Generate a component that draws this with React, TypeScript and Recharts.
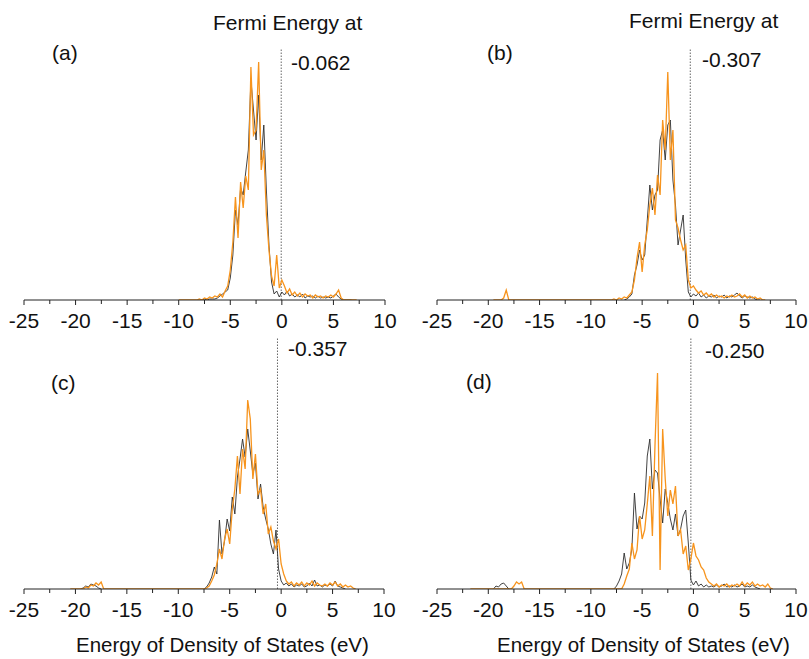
import React from "react";
import { LineChart, Line, XAxis, YAxis, ReferenceLine } from "recharts";

// energy grid (eV): a sparse low-energy part, then the dense band region
const farEnergy = [-21.75, -20.5, -19.5, -19.25, -19, -18.75, -18.5, -18.25, -18, -17.75, -17.5, -17.25, -17, -16.75, -16.5, -16];
const mainEnergy = [
  -10, -9.75, -9.5, -9.25, -9, -8.75, -8.5, -8.25,
  -8, -7.75, -7.5, -7.25, -7, -6.75, -6.5, -6.25,
  -6, -5.75, -5.5, -5.25, -5, -4.75, -4.5, -4.25,
  -4, -3.75, -3.5, -3.25, -3, -2.75, -2.5, -2.25,
  -2, -1.75, -1.5, -1.25, -1, -0.75, -0.5, -0.25,
  0, 0.25, 0.5, 0.75, 1, 1.25, 1.5, 1.75,
  2, 2.25, 2.5, 2.75, 3, 3.25, 3.5, 3.75,
  4, 4.25, 4.5, 4.75, 5, 5.25, 5.5, 5.75,
  6, 6.25, 6.5, 6.75, 7, 7.25, 7.5, 7.75,
];
const energy = [...farEnergy, ...mainEnergy];

const N = null;

// (a) Fermi -0.062
const aBlack = [
  N, N, N, N, N, N, N, N, N, N, N, N, N, N, N, N,
  N, N, N, N, N, N, N, N,
  0, 0, 1, 0, 1, 1, 1, 2,
  4, 6, 8, 10, 22, 45, 90, 75,
  112, 105, 128, 150, 220, 190, 160, 205,
  140, 175, 110, 55, 18, 6, 9, 3,
  8, 5, 9, 4, 6, 3, 5, 3,
  6, 2, 4, 3, 4, 2, 4, 2,
  3, 2, 3, 2, 4, 6, 3, 1,
  0, 0, 0, 0, N, N, N, N,
];
const aOrange = [
  N, N, N, N, N, N, N, N, N, N, N, N, N, N, N, N,
  0, 0, 0, 0, 0, 0, 0, 0,
  1, 0, 2, 1, 3, 2, 4, 3,
  6, 3, 9, 14, 30, 58, 103, 62,
  118, 92, 124, 110, 233, 165, 170, 238,
  130, 150, 85, 50, 24, 14, 45, 12,
  20, 14, 7, 11, 5, 8, 4, 7,
  3, 6, 4, 5, 2, 5, 3, 4,
  2, 4, 3, 5, 3, 6, 10, 2,
  0, 0, 0, 0, 0, 0, N, N,
];

// (b) Fermi -0.307
const bBlack = [
  N, N, N, N, N, N, N, N, N, N, N, N, N, N, N, N,
  N, N, N, N, N, N, N, N,
  N, N, N, N, N, 0, 1, 3,
  6, 25, 35, 50, 40, 45, 80, 115,
  90, 105, 110, 160, 170, 140, 175, 180,
  120, 95, 55, 70, 85, 40, 8, 3,
  6, 4, 7, 3, 5, 2, 4, 3,
  5, 2, 4, 3, 5, 2, 4, 3,
  5, 7, 4, 2, 4, 3, 2, 3,
  1, 0, 0, N, N, N, N, N,
];
const bOrange = [
  N, N, 0, 0, 0, 0, 2, 10, 0, 0, 0, 0, 0, 0, 0, 0,
  0, 0, 0, 0, 0, 0, 0, 0,
  0, 1, 0, 2, 1, 3, 2, 5,
  8, 20, 42, 58, 28, 55, 70, 95,
  112, 85, 125, 105, 180, 150, 228, 140,
  170, 80, 72, 60, 50, 55, 20, 12,
  14, 10, 7, 9, 5, 7, 4, 6,
  3, 5, 3, 4, 2, 4, 3, 5,
  3, 4, 6, 3, 5, 2, 4, 2,
  3, 1, 2, 0, 0, N, N, N,
];

// (c) Fermi -0.357
const cBlack = [
  N, N, 0, 1, 3, 2, 5, 4, 3, 1, 0, N, N, N, N, N,
  N, N, N, N, N, N, N, N,
  N, N, 0, 2, 6, 12, 22, 15,
  69, 35, 48, 70, 58, 92, 75, 112,
  130, 150, 132, 160, 138, 115, 126, 90,
  105, 82, 70, 60, 45, 35, 59, 20,
  8, 4, 6, 3, 5, 2, 4, 3,
  5, 2, 3, 6, 3, 9, 3, 4,
  2, 4, 3, 5, 3, 8, 3, 2,
  1, 0, N, N, N, N, N, N,
];
const cOrange = [
  N, 0, 0, 0, 2, 1, 4, 3, 6, 4, 7, 0, 0, 0, 0, 0,
  0, 0, 0, 0, 0, 0, 0, 0,
  0, 0, 0, 1, 3, 8, 14, 25,
  40, 30, 50, 60, 45, 80, 100, 133,
  95, 140, 120, 189, 170, 110, 135, 95,
  100, 75, 85, 55, 62, 48, 40, 50,
  25, 15, 8, 5, 7, 3, 6, 4,
  7, 3, 6, 4, 8, 3, 6, 4,
  3, 5, 3, 6, 4, 7, 3, 5,
  2, 4, 2, 3, 1, 0, N, N,
];

// (d) Fermi -0.250
const dBlack = [
  N, N, 0, 3, 2, 5, 6, 3, 0, N, N, N, N, N, N, N,
  N, N, N, N, N, N, N, N,
  N, 0, 3, 8, 15, 36, 20, 26,
  40, 96, 60, 73, 70, 86, 133, 150,
  100, 119, 116, 90, 66, 100, 86, 70,
  59, 75, 53, 60, 73, 79, 46, 9,
  4, 8, 3, 5, 2, 4, 2, 3,
  2, 4, 2, 3, 5, 2, 3, 2,
  4, 2, 3, 5, 2, 3, 2, 4,
  2, 1, 0, N, N, N, N, N,
];
const dOrange = [
  0, 0, 0, 0, 0, 0, 0, 0, 0, 0, 3, 7, 5, 7, 0, 0,
  0, 0, 0, 0, 0, 0, 0, 0,
  0, 0, 0, 0, 0, 5, 13, 20,
  46, 30, 39, 73, 50, 59, 85, 113,
  53, 143, 216, 19, 160, 110, 73, 99,
  85, 103, 53, 59, 35, 43, 19, 30,
  46, 33, 29, 22, 19, 11, 7, 5,
  3, 5, 2, 4, 3, 5, 2, 4,
  3, 5, 3, 7, 3, 6, 4, 7,
  3, 5, 3, 4, 2, 5, 1, 0,
];

const xTicks = [-25, -22.5, -20, -17.5, -15, -12.5, -10, -7.5, -5, -2.5, 0, 2.5, 5, 7.5, 10];

const BLACK = "#2e2e2e";
const ORANGE = "#f7941d";
const FONT = '"Liberation Sans", Arial, Helvetica, sans-serif';

function toRows(black: (number | null)[], orange: (number | null)[]) {
  return energy.map((e, i) => ({ e, black: black[i], orange: orange[i] }));
}

/** tick line for every 2.5 eV, label only on the 5 eV marks */
function EnergyTick(props: any) {
  const { x, y, payload } = props;
  const v = payload.value;
  const major = v % 5 === 0;
  const axisY = y - 13;
  return (
    <g>
      <line x1={x} y1={axisY} x2={x} y2={axisY + (major ? 5 : 4)} stroke="#222" strokeWidth={1} />
      {major && (
        <text x={x} y={y} dy="0.71em" textAnchor="middle" fontSize={21} fill="#111" fontFamily={FONT}>
          {v}
        </text>
      )}
    </g>
  );
}

function Panel({ left, top, plotWidth, black, orange, fermi, lineTop }: any) {
  const data = toRows(black, orange);
  return (
    <div style={{ position: "absolute", left: left - 20, top }}>
      <LineChart width={plotWidth + 40} height={305} data={data} margin={{ top: 0, right: 20, left: 20, bottom: 0 }}>
        <XAxis
          dataKey="e"
          type="number"
          domain={[-25, 10]}
          ticks={xTicks}
          interval={0}
          height={45}
          tickSize={5}
          tickMargin={8}
          tickLine={false}
          axisLine={{ stroke: "#222" }}
          tick={(p: any) => <EnergyTick {...p} />}
        />
        <YAxis hide domain={[0, 260]} allowDataOverflow />
        <ReferenceLine
          segment={[{ x: fermi, y: 0 }, { x: fermi, y: lineTop }]}
          stroke="#666"
          strokeDasharray="1.5 1.5"
        />
        <Line type="linear" dataKey="black" stroke={BLACK} strokeWidth={0.9} dot={false} isAnimationActive={false} />
        <Line type="linear" dataKey="orange" stroke={ORANGE} strokeWidth={1.3} dot={false} isAnimationActive={false} />
      </LineChart>
    </div>
  );
}

function Note({ x, y, children, size = 21 }: any) {
  return (
    <div
      style={{
        position: "absolute",
        left: x,
        top: y,
        transform: "translateY(-50%)",
        fontSize: size,
        lineHeight: 1,
        whiteSpace: "nowrap",
        color: "#111",
      }}
    >
      {children}
    </div>
  );
}

export default function App() {
  return (
    <div
      style={{
        position: "absolute",
        left: 0,
        top: 0,
        width: 809,
        height: 659,
        background: "#fff",
        fontFamily: FONT,
        overflow: "hidden",
      }}
    >
      <Panel left={24} top={40} plotWidth={361} black={aBlack} orange={aOrange} fermi={-0.062} lineTop={252} />
      <Panel left={437} top={40} plotWidth={359} black={bBlack} orange={bOrange} fermi={-0.307} lineTop={252} />
      <Panel left={24} top={329} plotWidth={360} black={cBlack} orange={cOrange} fermi={-0.357} lineTop={251} />
      <Panel left={437} top={329} plotWidth={359} black={dBlack} orange={dOrange} fermi={-0.25} lineTop={252} />

      <Note x={213} y={22}>Fermi Energy at</Note>
      <Note x={629} y={20}>Fermi Energy at</Note>
      <Note x={52} y={52}>(a)</Note>
      <Note x={487} y={52}>(b)</Note>
      <Note x={51} y={382}>(c)</Note>
      <Note x={466} y={381}>(d)</Note>
      <Note x={291} y={62}>-0.062</Note>
      <Note x={702} y={59}>-0.307</Note>
      <Note x={288} y={348}>-0.357</Note>
      <Note x={705} y={350}>-0.250</Note>
      <Note x={76} y={645} size={20.5}>Energy of Density of States (eV)</Note>
      <Note x={497} y={645} size={20.5}>Energy of Density of States (eV)</Note>
    </div>
  );
}
